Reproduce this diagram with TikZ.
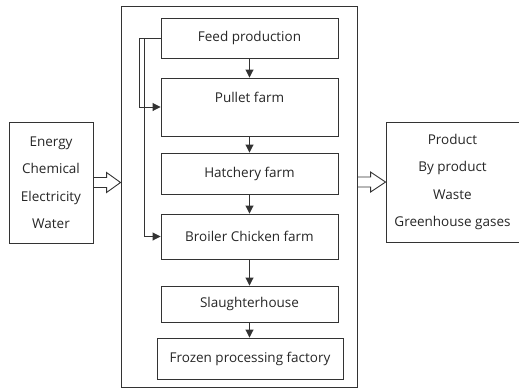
\documentclass[tikz,border=0pt]{standalone}
\usepackage{fontspec}
\setmainfont{Open Sans}
\usetikzlibrary{arrows.meta,calc}
\begin{document}
\begin{tikzpicture}[x=1pt,y=-1pt,
  box/.style={draw=black!80, line width=0.9pt, inner sep=0pt, text=black!85,
    font=\fontsize{13.5}{16}\selectfont},
  proc/.style={box, minimum width=177pt},
  flow/.style={draw=black!80, line width=0.9pt, -{Triangle[length=8pt,width=8pt]}},
  hollow/.style={draw=black!80, line width=0.9pt, line join=miter},
  io/.style={box, align=center, font=\fontsize{13.5}{27.5}\selectfont}]
\useasboundingbox (0,0) rectangle (519,389);

% system boundary
\node[box, minimum width=236pt, minimum height=381pt] (sys) at (239,196.5) {};

% inputs and outputs
\node[io, minimum width=84pt, minimum height=121pt] (in) at (51,182.5)
  {Energy\\Chemical\\Electricity\\Water};
\node[io, minimum width=133pt, minimum height=120pt] (out) at (452.5,182)
  {Product\\By product\\Waste\\Greenhouse gases};

% process boxes
\node[proc, minimum height=40pt] (feed) at (249.5,38) {Feed production};
\node[proc, minimum height=58pt, text depth=20pt] (pullet) at (249.5,107) {Pullet farm};
\node[proc, minimum height=41pt] (hatch) at (249.5,173.5) {Hatchery farm};
\node[proc, minimum height=45pt] (broiler) at (249.5,236.5) {Broiler Chicken farm};
\node[proc, minimum height=36pt] (slaughter) at (249.5,304) {Slaughterhouse};
\node[box, minimum width=186pt, minimum height=41pt] (frozen) at (250,358.5) {Frozen processing factory};

% main flow
\draw[flow] (feed) -- (pullet);
\draw[flow] (pullet) -- (hatch);
\draw[flow] (hatch) -- (broiler);
\draw[flow] (broiler) -- (slaughter);
\draw[flow] (slaughter.south) -- (slaughter.south|-frozen.north);

% bypass lines
\coordinate (split) at ($(feed.west)+(-16,0)$);
\draw[flow] (feed.west) -- ++(-21,0) |- (pullet.west);
\draw[flow] (split) |- (broiler.west);

% hollow arrows
\coordinate (tipL) at (sys.west|-in.east);
\draw[hollow] ($(in.east)+(0,-5)$) -- ($(tipL)+(-14,-5)$) -- ($(tipL)+(-14,-10)$)
  -- (tipL) -- ($(tipL)+(-14,10)$) -- ($(tipL)+(-14,5)$) -- ($(in.east)+(0,5)$);
\coordinate (tipR) at (out.west);
\draw[hollow] ($(sys.east|-out.west)+(0,-5)$) -- ($(tipR)+(-15,-5)$) -- ($(tipR)+(-15,-10)$)
  -- (tipR) -- ($(tipR)+(-15,10)$) -- ($(tipR)+(-15,5)$) -- ($(sys.east|-out.west)+(0,5)$);
\end{tikzpicture}
\end{document}
